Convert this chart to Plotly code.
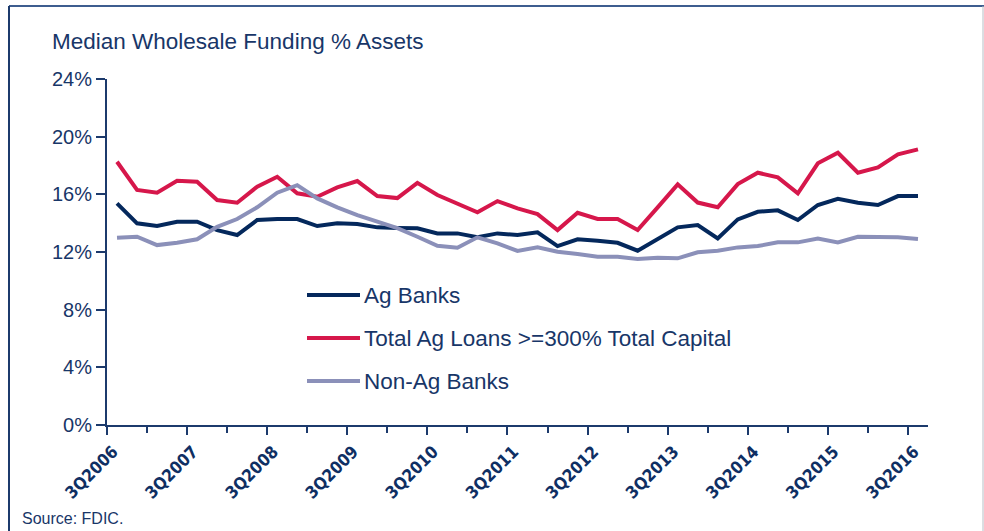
import plotly.graph_objects as go

quarters = ["3Q2006","4Q2006","1Q2007","2Q2007","3Q2007","4Q2007","1Q2008","2Q2008","3Q2008","4Q2008",
            "1Q2009","2Q2009","3Q2009","4Q2009","1Q2010","2Q2010","3Q2010","4Q2010","1Q2011","2Q2011",
            "3Q2011","4Q2011","1Q2012","2Q2012","3Q2012","4Q2012","1Q2013","2Q2013","3Q2013","4Q2013",
            "1Q2014","2Q2014","3Q2014","4Q2014","1Q2015","2Q2015","3Q2015","4Q2015","1Q2016","2Q2016","3Q2016"]

ag_banks = [15.37, 13.99, 13.80, 14.10, 14.10, 13.52, 13.18, 14.22, 14.29, 14.29,
            13.80, 13.99, 13.94, 13.71, 13.66, 13.64, 13.29, 13.29, 13.02, 13.29,
            13.18, 13.36, 12.41, 12.88, 12.78, 12.64, 12.09, 12.90, 13.71, 13.87,
            12.94, 14.26, 14.79, 14.89, 14.22, 15.26, 15.69, 15.42, 15.26, 15.88, 15.88]

ag_300 = [18.26, 16.30, 16.11, 16.94, 16.87, 15.60, 15.42, 16.53, 17.22, 16.07,
          15.83, 16.48, 16.92, 15.88, 15.74, 16.80, 15.95, 15.33, 14.75, 15.53,
          15.03, 14.63, 13.52, 14.72, 14.29, 14.29, 13.52, 15.10, 16.69, 15.43,
          15.10, 16.71, 17.50, 17.18, 16.07, 18.15, 18.88, 17.50, 17.87, 18.77, 19.12]

non_ag = [12.99, 13.06, 12.48, 12.64, 12.88, 13.75, 14.29, 15.10, 16.11, 16.64,
          15.72, 15.10, 14.56, 14.10, 13.66, 13.06, 12.43, 12.30, 13.02, 12.60,
          12.07, 12.32, 12.02, 11.86, 11.67, 11.67, 11.51, 11.60, 11.56, 11.98,
          12.09, 12.32, 12.41, 12.67, 12.67, 12.94, 12.67, 13.06, 13.06, 13.02, 12.90]

series_names = ["Ag Banks", "Total Ag Loans >=300% Total Capital", "Non-Ag Banks"]
series_colors = ["#04285c", "#d6174b", "#8b90b9"]

y_ticks = [0, 4, 8, 12, 16, 20, 24]
x_label_every = 4

W, H = 984, 531
L, R, T, B = 107, 56, 79, 106
pw, ph = W - L - R, H - T - B

navy = "#1c3a6c"
text_col = "#183668"
font_main = "Liberation Sans, Arial, sans-serif"

def px(x):
    return (x - L) / pw

def py(y):
    return (H - B - y) / ph

xs = list(range(len(quarters)))
fig = go.Figure()
for i, (name, vals) in enumerate(zip(series_names, [ag_banks, ag_300, non_ag])):
    fig.add_trace(go.Scatter(
        x=xs, y=vals, mode="lines", name=name,
        line=dict(color=series_colors[i], width=4),
        showlegend=False,
        hovertemplate="%{text}: %{y:.1f}%<extra></extra>", text=quarters,
    ))

# legend (drawn as line samples + labels)
legend_rows = [295, 338, 381]
for i, name in enumerate(series_names):
    fig.add_shape(type="line", xref="paper", yref="paper",
                  x0=px(307), x1=px(360), y0=py(legend_rows[i]), y1=py(legend_rows[i]),
                  line=dict(color=series_colors[i], width=4))
    fig.add_annotation(text=name, xref="paper", yref="paper",
                       x=px(362), y=py(legend_rows[i]), xanchor="left", yanchor="middle",
                       showarrow=False, font=dict(family=font_main, size=22.5, color=text_col))

major_vals = [i - 0.5 for i in range(0, len(quarters), x_label_every)]
major_text = [quarters[i] for i in range(0, len(quarters), x_label_every)]
minor_vals = [i - 0.5 for i in range(2, len(quarters), x_label_every)]

fig.update_xaxes(
    range=[-0.5, len(quarters) - 0.5],
    tickmode="array", tickvals=major_vals, ticktext=major_text,
    tickangle=-45, ticks="outside", ticklen=8, tickwidth=2, tickcolor=navy,
    ticklabelshift=6,
    minor=dict(tickmode="array", tickvals=minor_vals, ticks="outside", ticklen=6, tickwidth=2, tickcolor=navy),
    showline=True, linecolor=navy, linewidth=2,
    showgrid=False, zeroline=False,
    tickfont=dict(family="Liberation Sans Narrow, DejaVu Sans Condensed, Arial Narrow, sans-serif",
                  size=17, color="#0f2f63", weight="bold"),
)
fig.update_yaxes(
    range=[0, 24],
    tickmode="array", tickvals=y_ticks, ticktext=[f"{v}%" for v in y_ticks],
    ticks="outside", ticklen=9, tickwidth=2, tickcolor=navy,
    showline=True, linecolor=navy, linewidth=2,
    showgrid=False, zeroline=False,
    tickfont=dict(family=font_main, size=20, color=text_col),
)

# frame borders
fig.add_shape(type="line", xref="paper", yref="paper", x0=px(9), x1=px(984), y0=py(6), y1=py(6),
              line=dict(color="#3d5d8f", width=2))
fig.add_shape(type="line", xref="paper", yref="paper", x0=px(9), x1=px(9), y0=py(6), y1=py(531),
              line=dict(color="#1c3a6c", width=2))
fig.add_shape(type="line", xref="paper", yref="paper", x0=px(983), x1=px(983), y0=py(6), y1=py(531),
              line=dict(color="#b8bcc4", width=1))

fig.add_annotation(text="Median Wholesale Funding % Assets", xref="paper", yref="paper",
                   x=px(50), y=py(41), xanchor="left", yanchor="middle", showarrow=False,
                   font=dict(family=font_main, size=22.5, color=text_col))
fig.add_annotation(text="Source: FDIC.", xref="paper", yref="paper",
                   x=px(20), y=py(518), xanchor="left", yanchor="middle", showarrow=False,
                   font=dict(family=font_main, size=16, color=text_col))

fig.update_layout(
    width=W, height=H,
    margin=dict(l=L, r=R, t=T, b=B),
    paper_bgcolor="white", plot_bgcolor="white",
    showlegend=False,
)

fig.write_html("out.html", config={"displayModeBar": False},
               post_script="document.body.style.margin='0';")
